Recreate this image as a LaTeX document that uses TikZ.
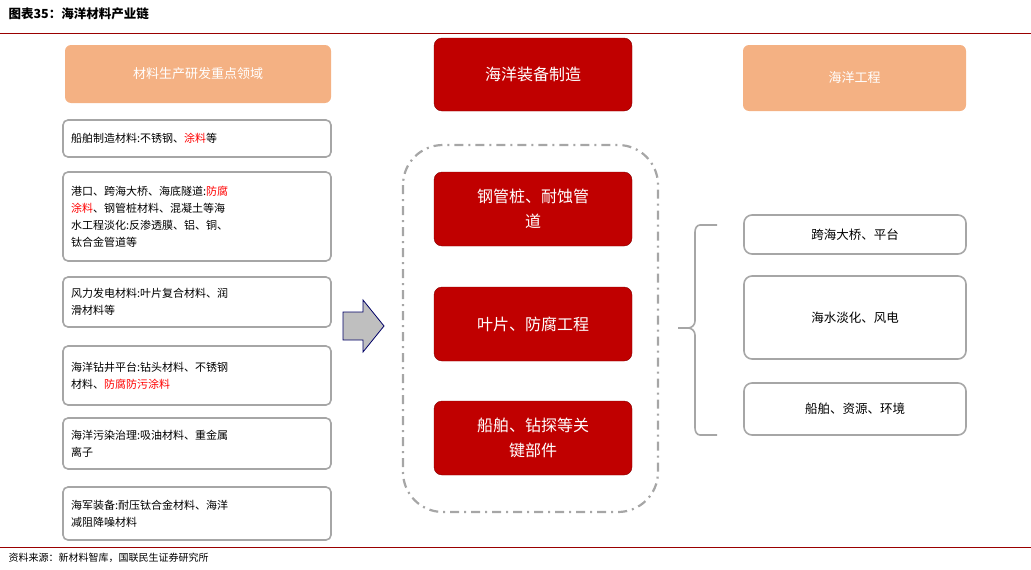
\documentclass[tikz,border=0pt]{standalone}
\usepackage{fontspec}
\setmainfont{Noto Sans CJK SC}
\usetikzlibrary{positioning}
\definecolor{hdred}{HTML}{C00000}
\definecolor{peach}{HTML}{F4B183}
\definecolor{edge}{HTML}{A6A6A6}
\tikzset{
  leftbox/.style={draw=edge, line width=1.6pt, rounded corners=5pt, fill=white, minimum width=268pt, align=left, text width=252pt, font=\fontsize{11}{17}\selectfont},
  rightbox/.style={draw=edge, line width=1.6pt, rounded corners=8pt, fill=white, minimum width=222pt, font=\fontsize{12.5}{16}\selectfont},
  headbox/.style={fill=peach, rounded corners=6pt, text=white, font=\fontsize{13}{16}\selectfont},
  redbox/.style={fill=hdred, draw=hdred!70!black, rounded corners=8pt, text=white, minimum width=198pt, align=center, text width=180pt, font=\fontsize{16}{25}\selectfont}
}
\begin{document}
\begin{tikzpicture}[x=1pt,y=-1pt]
\useasboundingbox (0,0) rectangle (1031,570);

% title and rules
\node[anchor=west, font=\bfseries\fontsize{12.5}{15}\selectfont] (title) at (5,14) {图表35：海洋材料产业链};
\draw[hdred!80!black, line width=0.8pt] (0,33) -- (1031,33);
\draw[hdred!80!black, line width=0.8pt] (0,547) -- (1031,547);
\node[anchor=west, font=\fontsize{10}{12}\selectfont] (src) at (5,558) {资料来源：新材料智库，国联民生证券研究所};

% left column
\node[headbox, minimum width=266pt, minimum height=58pt] (lhead) at (198,74) {材料生产研发重点领域};
\node[leftbox, minimum height=37pt] (l1) at (197,138.5) {船舶制造材料:不锈钢、\textcolor{red}{涂料}等};
\node[leftbox, minimum height=89pt] (l2) at (197,216.5) {港口、跨海大桥、海底隧道:\textcolor{red}{防腐}\\\textcolor{red}{涂料}、钢管桩材料、混凝土等海\\水工程淡化:反渗透膜、铝、铜、\\钛合金管道等};
\node[leftbox, minimum height=50pt] (l3) at (197,302) {风力发电材料:叶片复合材料、润\\滑材料等};
\node[leftbox, minimum height=59pt] (l4) at (197,375.5) {海洋钻井平台:钻头材料、不锈钢\\材料、\textcolor{red}{防腐防污涂料}};
\node[leftbox, minimum height=51pt] (l5) at (197,443.5) {海洋污染治理:吸油材料、重金属\\离子};
\node[leftbox, minimum height=53pt] (l6) at (197,513.5) {海军装备:耐压钛合金材料、海洋\\减阻降噪材料};

% block arrow
\draw[draw=blue!40!black, fill=gray!50, line width=0.8pt] (343,312) -- (363,312) -- (363,300) -- (384,326) -- (363,352) -- (363,340) -- (343,340) -- cycle;

% centre column
\draw[edge, line width=2.2pt, dash pattern=on 9pt off 5pt on 2pt off 5pt, rounded corners=40pt] (403,145) rectangle (658,512);
\node[redbox, minimum height=73pt] (chead) at (533,74.5) {海洋装备制造};
\node[redbox, minimum height=74pt] (c1) at (533,209) {钢管桩、耐蚀管\\道};
\node[redbox, minimum height=74pt] (c2) at (533,324) {叶片、防腐工程};
\node[redbox, minimum height=74pt] (c3) at (533,438) {船舶、钻探等关\\键部件};

% bracket
\draw[edge, line width=1.6pt] (717,225) -- (700,225) to[out=180,in=90] (695,232) -- (695,321) to[out=270,in=0] (688,328) -- (678,328);
\draw[edge, line width=1.6pt] (688,328) to[out=0,in=90] (695,335) -- (695,428) to[out=270,in=180] (700,435) -- (717,435);

% right column
\node[headbox, minimum width=223pt, minimum height=66pt] (rhead) at (854.5,78) {海洋工程};
\node[rightbox, minimum height=39pt] (r1) at (855,234.5) {跨海大桥、平台};
\node[rightbox, minimum height=83pt] (r2) at (855,317.5) {海水淡化、风电};
\node[rightbox, minimum height=52pt] (r3) at (855,409) {船舶、资源、环境};
\end{tikzpicture}
\end{document}
